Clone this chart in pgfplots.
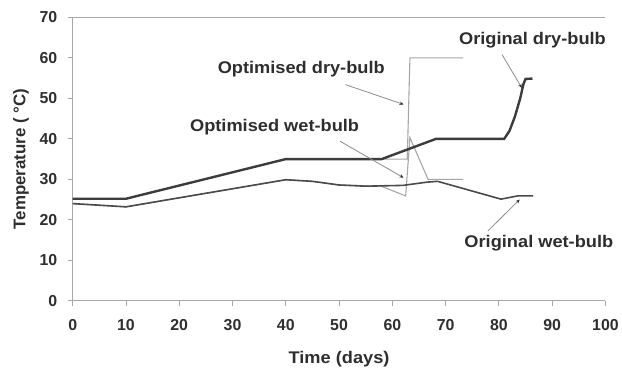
\documentclass[border=0pt]{standalone}
\usepackage{pgfplots}
\pgfplotsset{compat=1.18}
\usepackage{fontspec}
\setmainfont{Liberation Sans}
\newfontfamily\widesans[FakeStretch=1.08]{Liberation Sans}
\usetikzlibrary{arrows.meta}

\definecolor{axisgray}{HTML}{A8A8A8}
\definecolor{txt}{HTML}{2E2E2E}
\definecolor{origdry}{HTML}{3C3C3C}
\definecolor{origwet}{HTML}{4A4A4A}
\definecolor{optgray}{HTML}{A6A6A6}
\definecolor{arrgray}{HTML}{8C8C8C}

\begin{document}
\begin{tikzpicture}
% fixed canvas
\path (0,0) rectangle (622bp,372bp);
\begin{axis}[
  at={(73bp,70bp)}, anchor=south west,
  scale only axis, width=535bp, height=284.5bp,
  xmin=0, xmax=100, ymin=0, ymax=70,
  xtick={0,10,...,100}, ytick={0,10,...,70},
  axis x line*=bottom, axis y line*=left,
  axis line style={axisgray, line width=1bp, -},
  tick align=outside, major tick length=5bp,
  tick style={axisgray, line width=0.9bp},
  extra y ticks={70}, extra y tick labels={},
  extra y tick style={grid=major, major grid style={axisgray, line width=0.9bp}, major tick length=0pt},
  /pgf/number format/assume math mode=true,
  ticklabel style={font=\fontsize{16}{18}\selectfont\bfseries, text=txt},
  yticklabel style={xshift=-7bp},
  xticklabel style={yshift=-10bp},
  xlabel={\widesans Time (days)}, ylabel={Temperature ( °C)},
  label style={font=\fontsize{17}{19}\selectfont\bfseries, text=txt},
  xlabel style={at={(axis description cs:0.5,-0.205)}, anchor=center},
  ylabel style={at={(axis description cs:-0.097,0.5)}, anchor=center},
  clip=false,
]
% optimised profiles (thin, light)
\addplot[optgray, line width=1.1bp] coordinates {
  (0,25.2) (10,25.2) (40,35) (62.8,35) (63.3,60) (73.3,60)};
\addplot[optgray, line width=1.1bp] coordinates {
  (0,24) (10,23.2) (40,29.9) (45,29.5) (50,28.6) (57.9,28.3)
  (62.5,25.9) (63.3,40.3) (66.7,30) (73.3,30)};
% original profiles
\addplot[origwet, line width=1.6bp] coordinates {
  (0,24) (10,23.2) (40,29.9) (45,29.5) (50,28.6) (55,28.3) (62,28.5)
  (66.5,29.3) (68.5,29.5) (80.4,25.1) (83.5,25.9) (86.4,25.9)};
\addplot[origdry, line width=2.4bp] coordinates {
  (0,25.2) (10,25.2) (40,35) (58,35) (68.2,40) (81,40) (82,42)
  (83,45.5) (84,50) (84.6,53.5) (85,54.8) (86.3,54.9)};

% annotations
\begin{scope}[every node/.style={font=\widesans\fontsize{17}{19}\selectfont\bfseries, text=txt}]
\node at (axis cs:42.9,57.1) {Optimised dry-bulb};
\node at (axis cs:37.9,42.9) {Optimised wet-bulb};
\node at (axis cs:86.3,64.3) {Original dry-bulb};
\node at (axis cs:87.5,14.3) {Original wet-bulb};
\end{scope}
\begin{scope}[arrgray, line width=0.8bp, -{Stealth[length=4bp,width=3.5bp,color=txt]}]
\draw (axis cs:51.2,53.4) -- (axis cs:62.1,48.5);
\draw (axis cs:50.2,39.4) -- (axis cs:62.1,30.4);
\draw (axis cs:80.6,60.8) -- (axis cs:84.3,52.6);
\draw (axis cs:77.9,17.2) -- (axis cs:83.9,25.0);
\end{scope}
\end{axis}
\end{tikzpicture}
\end{document}
